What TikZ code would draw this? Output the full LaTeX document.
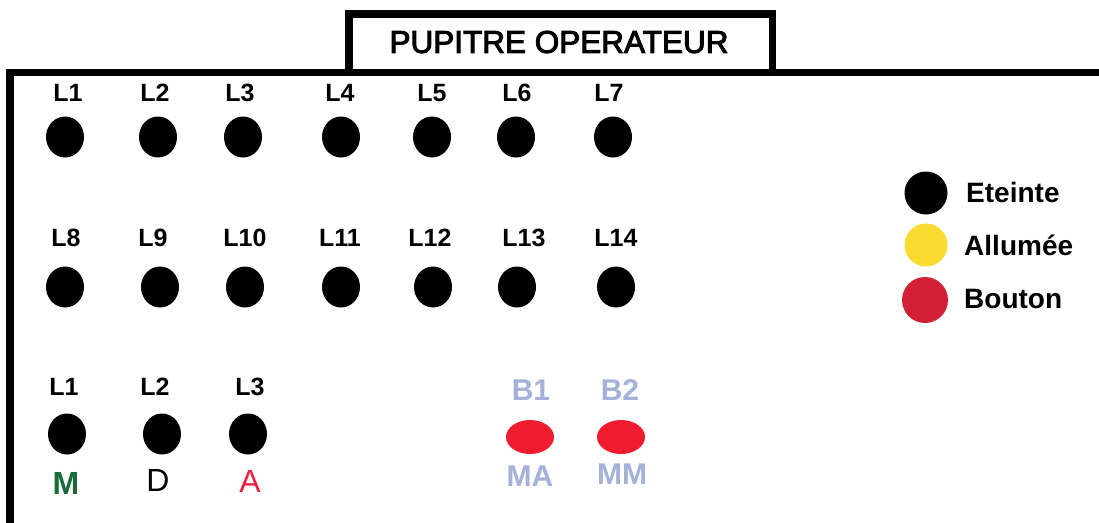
\documentclass[tikz,border=0pt]{standalone}
\usepackage{fontspec}
\setmainfont{Liberation Sans}
\newfontfamily\titlefont[FakeBold=3]{Liberation Sans}
\usetikzlibrary{shapes.geometric}
\definecolor{lampoff}{HTML}{000000}
\definecolor{lampon}{HTML}{FADC30}
\definecolor{legred}{HTML}{D21F35}
\definecolor{btnred}{HTML}{EE1C2E}
\definecolor{btntext}{HTML}{A4B2DA}
\definecolor{mgreen}{HTML}{1A6B38}
\definecolor{ared}{HTML}{EE2040}
\tikzset{
  frame/.style={line width=7.5pt},
  lamp/.style={ellipse, fill=lampoff, minimum width=38pt, minimum height=41pt, inner sep=0pt},
  btn/.style={ellipse, fill=btnred, minimum width=48pt, minimum height=34pt, inner sep=0pt},
  legdot/.style={circle, inner sep=0pt, minimum size=43pt},
  lbl/.style={font=\fontsize{25}{25}\selectfont\bfseries, inner sep=0pt},
  legtxt/.style={font=\fontsize{28}{28}\selectfont\bfseries, inner sep=0pt, anchor=west},
  btxt/.style={font=\fontsize{30}{30}\selectfont\bfseries, text=btntext, inner sep=0pt},
  mode/.style={font=\fontsize{32}{32}\selectfont, inner sep=0pt}
}
\begin{document}
\begin{tikzpicture}[x=1pt,y=-1pt]
\useasboundingbox (0,0) rectangle (1099,522);
\clip (0,0) rectangle (1099,522);
\fill[white] (0,0) rectangle (1099,522);
% frame
\draw[frame] (10,530) -- (10,72.5) -- (1110,72.5);
\draw[frame] (349,72) -- (349,14) -- (772.5,14) -- (772.5,72);
\node[font=\titlefont\fontsize{31.5}{31.5}\selectfont, inner sep=0pt] (title) at (559,42) {PUPITRE OPERATEUR};
% row 1
\foreach \n/\x/\lx in {1/65/68,2/158/155,3/243/240,4/341/340,5/432/432,6/516/517,7/613/609}{
  \node[lbl] (t\n) at (\lx,93) {L\n};
  \node[lamp] (l\n) at (\x,137) {};
}
% row 2
\foreach \n/\x/\lx in {8/65/66,9/160/153,10/245/245,11/341/340,12/433/430,13/517/524,14/616/616}{
  \node[lbl] (t\n) at (\lx,238) {L\n};
  \node[lamp] (l\n) at (\x,287) {};
}
% row 3
\node[lbl] (u1) at (64,387) {L1};
\node[lbl] (u2) at (155,387) {L2};
\node[lbl] (u3) at (250,387) {L3};
\node[lamp] (m1) at (67,434) {};
\node[lamp] (m2) at (162,434) {};
\node[lamp] (m3) at (248,434) {};
\node[mode, font=\fontsize{32}{32}\selectfont\bfseries, text=mgreen] (mm) at (66,483) {M};
\node[mode] (md) at (158,480) {D};
\node[mode, text=ared] (ma) at (250,481) {A};
% buttons
\node[btxt] (b1t) at (531,390) {B1};
\node[btxt] (b2t) at (620,390) {B2};
\node[btn] (b1) at (530,437) {};
\node[btn] (b2) at (621,437) {};
\node[btxt] (b1l) at (530,476) {MA};
\node[btxt] (b2l) at (622,474) {MM};
% legend
\node[legdot, fill=lampoff] (g1) at (926,193) {};
\node[legdot, fill=lampon] (g2) at (926,245) {};
\node[legdot, fill=legred, minimum size=46pt] (g3) at (925,300) {};
\node[legtxt] (e1) at (966,192) {Eteinte};
\node[legtxt] (e2) at (964,245) {Allumée};
\node[legtxt] (e3) at (964,299) {Bouton};
\end{tikzpicture}
\end{document}
